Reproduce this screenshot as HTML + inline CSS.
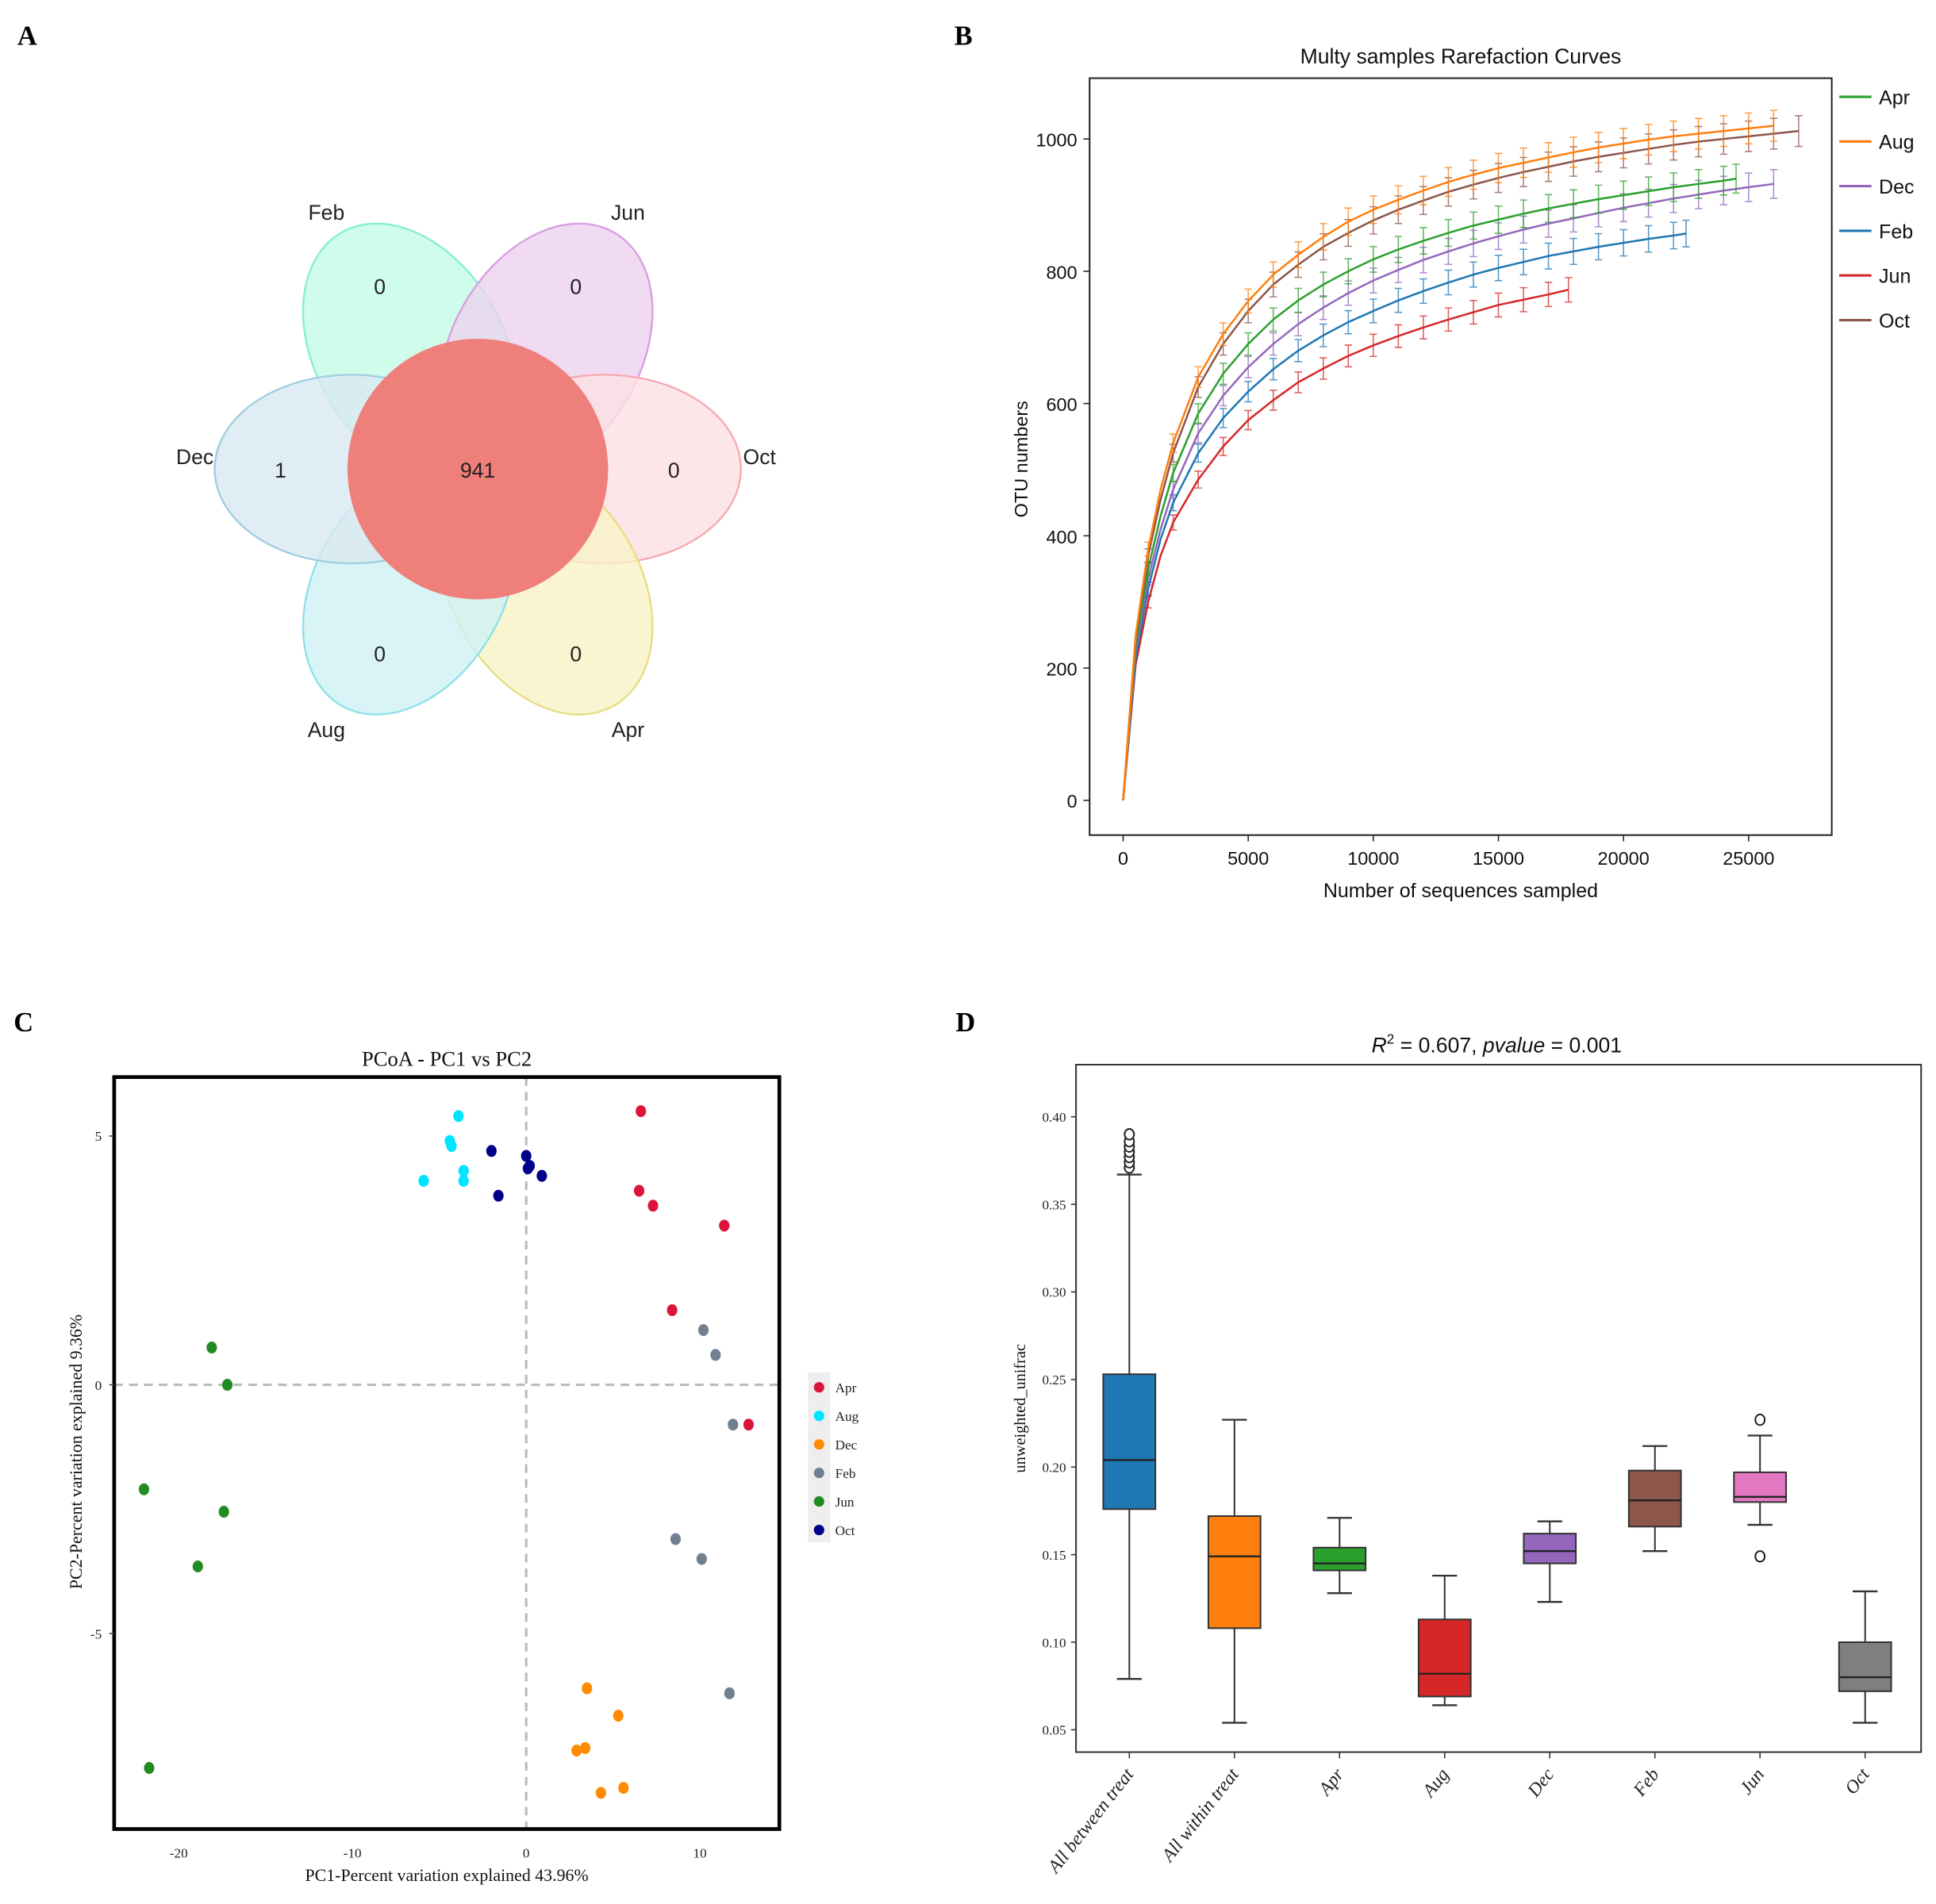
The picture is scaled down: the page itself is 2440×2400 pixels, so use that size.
<!DOCTYPE html>
<html><head><meta charset="utf-8"><style>
html,body{margin:0;padding:0;background:#fff;}
svg{display:block;}
</style></head><body>
<svg id="fig" width="2440" height="2400" viewBox="0 0 1560 1534.4" preserveAspectRatio="none" xmlns="http://www.w3.org/2000/svg">
<rect width="1560" height="1534.4" fill="#fff"/>
<g font-family="Liberation Serif, serif" font-weight="bold" font-size="22">
<text x="14" y="36">A</text>
<text x="769" y="36">B</text>
<text x="11" y="831">C</text>
<text x="770" y="831">D</text>
</g>
<g id="venn" font-family="Liberation Sans, sans-serif" font-size="17" fill="#222"></g>
<g id="rare"></g>
<g id="pcoa"></g>
<g id="box"></g>
</svg>
<script>
// ---------- Venn data ----------
const vennSets = ["Feb","Jun","Oct","Apr","Aug","Dec"];
const vennUnique = [0,0,0,0,0,1];
const vennCore = 941;
// ---------- Rarefaction data ----------
const rareSeries = ["Apr","Aug","Dec","Feb","Jun","Oct"];
const rareX_Apr = [0,500,1000,1500,2000,3000,4000,5000,6000,7000,8000,9000,10000,11000,12000,13000,14000,15000,16000,17000,18000,19000,20000,21000,22000,23000,24000,24500];
const rareY_Apr = [0,235,350,430,495,585,645,690,727,756,780,800,818,833,846,858,869,878,887,895,902,909,915,921,927,932,937,940];
const rareX_Aug = [0,500,1000,1500,2000,3000,4000,5000,6000,7000,8000,9000,10000,11000,12000,13000,14000,15000,16000,17000,18000,19000,20000,21000,22000,23000,24000,25000,26000];
const rareY_Aug = [0,250,380,470,540,640,705,755,795,825,852,875,893,908,922,935,946,956,964,972,980,987,993,999,1004,1008,1012,1016,1020];
const rareX_Dec = [0,500,1000,1500,2000,3000,4000,5000,6000,7000,8000,9000,10000,11000,12000,13000,14000,15000,16000,17000,18000,19000,20000,21000,22000,23000,24000,25000,26000];
const rareY_Dec = [0,225,335,410,470,555,612,655,690,720,745,767,786,802,817,830,842,853,863,872,880,888,896,903,910,916,922,927,932];
const rareX_Feb = [0,500,1000,1500,2000,3000,4000,5000,6000,7000,8000,9000,10000,11000,12000,13000,14000,15000,16000,17000,18000,19000,20000,21000,22000,22500];
const rareY_Feb = [0,215,320,395,450,525,578,618,652,680,703,723,740,756,770,783,795,805,814,823,830,837,843,849,854,857];
const rareX_Jun = [0,500,1000,1500,2000,3000,4000,5000,6000,7000,8000,9000,10000,11000,12000,13000,14000,15000,16000,17000,17800];
const rareY_Jun = [0,205,300,370,420,485,535,575,605,632,653,672,688,702,715,727,738,749,757,765,772];
const rareX_Oct = [0,500,1000,1500,2000,3000,4000,5000,6000,7000,8000,9000,10000,11000,12000,13000,14000,15000,16000,17000,18000,19000,20000,21000,22000,23000,24000,25000,26000,27000];
const rareY_Oct = [0,245,370,455,525,625,690,740,780,810,837,858,877,893,907,920,931,941,950,958,966,973,979,985,991,996,1000,1004,1008,1012];
const rareXTicks = [0,5000,10000,15000,20000,25000];
const rareYTicks = [0,200,400,600,800,1000];
// ---------- PCoA data ----------
const pcoaGroups = ["Apr","Aug","Dec","Feb","Jun","Oct"];
const pc1_Apr = [6.6,6.5,7.3,11.4,8.4,12.8];
const pc2_Apr = [5.5,3.9,3.6,3.2,1.5,-0.8];
const pc1_Aug = [-3.9,-4.4,-4.3,-3.6,-3.6,-5.9];
const pc2_Aug = [5.4,4.9,4.8,4.3,4.1,4.1];
const pc1_Dec = [3.5,5.3,3.4,2.9,5.6,4.3];
const pc2_Dec = [-6.1,-6.65,-7.3,-7.35,-8.1,-8.2];
const pc1_Feb = [10.2,10.9,11.9,8.6,10.1,11.7];
const pc2_Feb = [1.1,0.6,-0.8,-3.1,-3.5,-6.2];
const pc1_Jun = [-18.1,-17.2,-22.0,-17.4,-18.9,-21.7];
const pc2_Jun = [0.75,0.0,-2.1,-2.55,-3.65,-7.7];
const pc1_Oct = [-2.0,0.0,0.2,0.1,0.9,-1.6];
const pc2_Oct = [4.7,4.6,4.4,4.35,4.2,3.8];
const pcoaXTicks = [-20,-10,0,10];
const pcoaYTicks = [5,0,-5];
// ---------- Boxplot data ----------
const boxCats = ["All between treat","All within treat","Apr","Aug","Dec","Feb","Jun","Oct"];
const boxLow = [0.079,0.054,0.128,0.064,0.123,0.152,0.167,0.054];
const boxQ1 = [0.176,0.108,0.141,0.069,0.145,0.166,0.180,0.072];
const boxMed = [0.204,0.149,0.145,0.082,0.152,0.181,0.183,0.080];
const boxQ3 = [0.253,0.172,0.154,0.113,0.162,0.198,0.197,0.100];
const boxHigh = [0.367,0.227,0.171,0.138,0.169,0.212,0.218,0.129];
const boxOutCat = [0,0,0,0,0,0,0,6,6];
const boxOutVal = [0.371,0.374,0.377,0.380,0.383,0.386,0.390,0.227,0.149];
const boxYTicks = [0.05,0.10,0.15,0.20,0.25,0.30,0.35,0.40];

const NS="http://www.w3.org/2000/svg";
function mk(parent,tag,attrs,text){const e=document.createElementNS(NS,tag);for(const k in attrs)e.setAttribute(k,attrs[k]);if(text!==undefined)e.textContent=text;parent.appendChild(e);return e;}

// ===== Venn =====
(function(){
  const g=document.getElementById('venn');
  const cx=385,cy=378;
  const angles=[120,60,0,-60,-120,180];
  const fills=["#c4fbe6","#ecd2ef","#fde0e3","#f8f2c6","#cff1f4","#d9e9f1"];
  const strokes=["#86f0cb","#d89ee2","#f6a9b0","#e8dc82","#8ee0e8","#a0cde0"];
  const nums=[[306,231],[464,231],[543,379],[464,527],[306,527],[226,379]];
  const labs=[[263,171],[506,171],[612,368],[506,588],[263,588],[157,368]];
  angles.forEach((a,i)=>{
    const d= (a===0||a===180)?102:110;
    const r=a*Math.PI/180;
    const ex=cx+d*Math.cos(r), ey=cy-d*Math.sin(r);
    const el=mk(g,'ellipse',{cx:ex,cy:ey,rx:110,ry:76,transform:`rotate(${-a} ${ex} ${ey})`,fill:fills[i],'fill-opacity':0.8,stroke:strokes[i],'stroke-width':1.5});
    
    
  });
  const c=mk(g,'circle',{cx:cx,cy:cy,r:105,fill:"#ef7f7b"});
  
  
  vennSets.forEach((s,i)=>{
    const t=mk(g,'text',{x:nums[i][0],y:nums[i][1]+6,'text-anchor':'middle'},String(vennUnique[i]));
    
    
    const l=mk(g,'text',{x:labs[i][0],y:labs[i][1]+6,'text-anchor':'middle'},s);
    
    
  });
  const ct=mk(g,'text',{x:cx,y:cy+7,'text-anchor':'middle'},String(vennCore));
  
  
})();

// ===== Rarefaction =====
(function(){
  const g=document.getElementById('rare');
  const L=878,R=1476,T=63,B=673;
  const sx=v=>905+v*(1409-905)/25000;
  const sy=v=>645-v*(645-112)/1000;
  const colors={Apr:"#2ca02c",Aug:"#ff7f0e",Dec:"#9467bd",Feb:"#1f77b4",Jun:"#d62728",Oct:"#8c564b"};
  const data={Apr:[rareX_Apr,rareY_Apr],Aug:[rareX_Aug,rareY_Aug],Dec:[rareX_Dec,rareY_Dec],Feb:[rareX_Feb,rareY_Feb],Jun:[rareX_Jun,rareY_Jun],Oct:[rareX_Oct,rareY_Oct]};
  const f='Liberation Sans Narrow, Liberation Sans, sans-serif';
  const tt=mk(g,'text',{x:1177,y:51,'text-anchor':'middle','font-family':f,'font-size':17,fill:'#111'},'Multy samples Rarefaction Curves');
  
  
  const fr=mk(g,'rect',{x:L,y:T,width:R-L,height:B-T,fill:'none',stroke:'#222','stroke-width':1.3});
  
  
  rareXTicks.forEach(v=>{
    mk(g,'line',{x1:sx(v),x2:sx(v),y1:B,y2:B+5,stroke:'#222'});
    const t=mk(g,'text',{x:sx(v),y:B+24,'text-anchor':'middle','font-family':f,'font-size':15,fill:'#111'},String(v));
    
    
  });
  rareYTicks.forEach(v=>{
    mk(g,'line',{x1:L-5,x2:L,y1:sy(v),y2:sy(v),stroke:'#222'});
    const t=mk(g,'text',{x:L-10,y:sy(v)+6,'text-anchor':'end','font-family':f,'font-size':15,fill:'#111'},String(v));
    
    
  });
  const xt=mk(g,'text',{x:1177,y:723,'text-anchor':'middle','font-family':f,'font-size':16,fill:'#111'},'Number of sequences sampled');
  
  
  const yt=mk(g,'text',{x:0,y:0,transform:'translate(828,370) rotate(-90)','text-anchor':'middle','font-family':'Liberation Sans, sans-serif','font-size':15,fill:'#111'},'OTU numbers');
  
  
  const order=["Jun","Feb","Dec","Apr","Oct","Aug"];
  order.forEach(s=>{
    const [xs,ys]=data[s];
    const sg=mk(g,'g',{});
    
    
    const d=xs.map((x,i)=>(i?'L':'M')+sx(x).toFixed(1)+','+sy(ys[i]).toFixed(1)).join('');
    const p=mk(sg,'path',{d:d,fill:'none',stroke:colors[s],'stroke-width':1.6,'stroke-linejoin':'round'});
    
    
    xs.forEach((x,i)=>{
      if(i===0||(x%1000!==0&&i!==xs.length-1))return;
      const e=ys[i]*0.02+3;
      const px=sx(x);
      const eb=mk(sg,'path',{d:`M${px},${sy(ys[i]-e)}V${sy(ys[i]+e)}M${px-3},${sy(ys[i]-e)}H${px+3}M${px-3},${sy(ys[i]+e)}H${px+3}`,stroke:colors[s],'stroke-width':1,'stroke-opacity':0.75,fill:'none'});
      
      
    });
  });
  rareSeries.forEach((s,i)=>{
    const y=78+i*36;
    const lg=mk(g,'g',{});
    
    
    mk(lg,'line',{x1:1482,x2:1508,y1:y,y2:y,stroke:colors[s],'stroke-width':2});
    mk(lg,'text',{x:1514,y:y+6,'font-family':f,'font-size':16,fill:'#111'},s);
  });
})();

// ===== PCoA =====
(function(){
  const g=document.getElementById('pcoa');
  const L=92,R=628,T=868,B=1474;
  const sx=v=>424+v*14;
  const sy=v=>1116-v*40.1;
  const f='Liberation Serif, serif';
  const colors={Apr:"#dc143c",Aug:"#00e5ff",Dec:"#ff8c00",Feb:"#708090",Jun:"#228b22",Oct:"#00008b"};
  const data={Apr:[pc1_Apr,pc2_Apr],Aug:[pc1_Aug,pc2_Aug],Dec:[pc1_Dec,pc2_Dec],Feb:[pc1_Feb,pc2_Feb],Jun:[pc1_Jun,pc2_Jun],Oct:[pc1_Oct,pc2_Oct]};
  const tt=mk(g,'text',{x:360,y:859,'text-anchor':'middle','font-family':f,'font-size':17,fill:'#111'},'PCoA - PC1 vs PC2');
  
  
  mk(g,'line',{x1:sx(0),x2:sx(0),y1:T,y2:B,stroke:'#bbb','stroke-width':2,'stroke-dasharray':'7,5'});
  mk(g,'line',{x1:L,x2:R,y1:sy(0),y2:sy(0),stroke:'#bbb','stroke-width':2,'stroke-dasharray':'7,5'});
  const fr=mk(g,'rect',{x:L,y:T,width:R-L,height:B-T,fill:'none',stroke:'#000','stroke-width':3});
  
  
  pcoaXTicks.forEach(v=>{
    const t=mk(g,'text',{x:sx(v),y:B+23,'text-anchor':'middle','font-family':f,'font-size':11,fill:'#222'},String(v));
    
    
  });
  pcoaYTicks.forEach(v=>{
    mk(g,'line',{x1:L-4,x2:L,y1:sy(v),y2:sy(v),stroke:'#444'});
    const t=mk(g,'text',{x:L-10,y:sy(v)+4,'text-anchor':'end','font-family':f,'font-size':11,fill:'#222'},String(v));
    
    
  });
  const xt=mk(g,'text',{x:360,y:1516,'text-anchor':'middle','font-family':f,'font-size':14,fill:'#111'},'PC1-Percent variation explained 43.96%');
  
  
  const yt=mk(g,'text',{x:0,y:0,transform:'translate(66,1170) rotate(-90)','text-anchor':'middle','font-family':f,'font-size':14,fill:'#111'},'PC2-Percent variation explained 9.36%');
  
  
  pcoaGroups.forEach(s=>{
    const [xs,ys]=data[s];
    xs.forEach((x,i)=>{
      const c=mk(g,'ellipse',{cx:sx(x),cy:sy(ys[i]),rx:4.2,ry:4.8,fill:colors[s]});
      
      
    });
  });
  mk(g,'rect',{x:651,y:1106,width:18,height:137,fill:'#eeeeee'});
  pcoaGroups.forEach((s,i)=>{
    const y=1118+i*23;
    const lg=mk(g,'g',{});
    
    
    mk(lg,'circle',{cx:660,cy:y,r:4.2,fill:colors[s]});
    mk(lg,'text',{x:673,y:y+4,'font-family':f,'font-size':11,fill:'#222'},s);
  });
})();

// ===== Boxplot =====
(function(){
  const g=document.getElementById('box');
  const L=867,R=1548,T=858,B=1412;
  const cx=i=>910+i*84.7;
  const sy=v=>900+(0.40-v)*1411.4;
  const f='Liberation Serif, serif';
  const colors=["#1f77b4","#ff7f0e","#2ca02c","#d62728","#9467bd","#8c564b","#e377c2","#7f7f7f"];
  const tt=mk(g,'text',{x:1206,y:848,'text-anchor':'middle','font-family':'Liberation Sans Narrow, Liberation Sans, sans-serif','font-size':17,fill:'#111'});
  
  
  mk(tt,'tspan',{'font-style':'italic'},'R');
  mk(tt,'tspan',{dy:-7,'font-size':11},'2');
  mk(tt,'tspan',{dy:7},' = 0.607, ');
  mk(tt,'tspan',{'font-style':'italic'},'pvalue');
  mk(tt,'tspan',{},' = 0.001');
  mk(g,'rect',{x:L,y:T,width:R-L,height:B-T,fill:'none',stroke:'#333','stroke-width':1.3});
  boxYTicks.forEach(v=>{
    mk(g,'line',{x1:L-4,x2:L,y1:sy(v),y2:sy(v),stroke:'#333'});
    const t=mk(g,'text',{x:L-8,y:sy(v)+4,'text-anchor':'end','font-family':f,'font-size':11,fill:'#222'},v.toFixed(2));
    
    
  });
  const yt=mk(g,'text',{x:0,y:0,transform:'translate(826,1135) rotate(-90)','text-anchor':'middle','font-family':f,'font-size':13,fill:'#111'},'unweighted_unifrac');
  
  
  boxCats.forEach((c,i)=>{
    const x=cx(i),w=21;
    const bg=mk(g,'g',{});
    
    
    mk(bg,'line',{x1:x,x2:x,y1:sy(boxHigh[i]),y2:sy(boxQ3[i]),stroke:'#333','stroke-width':1.3});
    mk(bg,'line',{x1:x,x2:x,y1:sy(boxQ1[i]),y2:sy(boxLow[i]),stroke:'#333','stroke-width':1.3});
    mk(bg,'line',{x1:x-10,x2:x+10,y1:sy(boxHigh[i]),y2:sy(boxHigh[i]),stroke:'#333','stroke-width':1.5});
    mk(bg,'line',{x1:x-10,x2:x+10,y1:sy(boxLow[i]),y2:sy(boxLow[i]),stroke:'#333','stroke-width':1.5});
    mk(bg,'rect',{x:x-w,y:sy(boxQ3[i]),width:2*w,height:sy(boxQ1[i])-sy(boxQ3[i]),fill:colors[i],stroke:'#333','stroke-width':1.3});
    mk(bg,'line',{x1:x-w,x2:x+w,y1:sy(boxMed[i]),y2:sy(boxMed[i]),stroke:'#222','stroke-width':1.5});
    mk(g,'line',{x1:x,x2:x,y1:B,y2:B+5,stroke:'#333'});
    const t=mk(g,'text',{x:0,y:0,transform:`translate(${x+4},${B+18}) rotate(-52)`,'text-anchor':'end','font-family':f,'font-style':'italic','font-size':15,fill:'#222'},c);
    
    
  });
  boxOutVal.forEach((v,k)=>{
    const o=mk(g,'ellipse',{cx:cx(boxOutCat[k]),cy:sy(v),rx:3.8,ry:4.3,fill:'#fff',stroke:'#222','stroke-width':1.3});
    
    
  });
})();
</script>
</body></html>
